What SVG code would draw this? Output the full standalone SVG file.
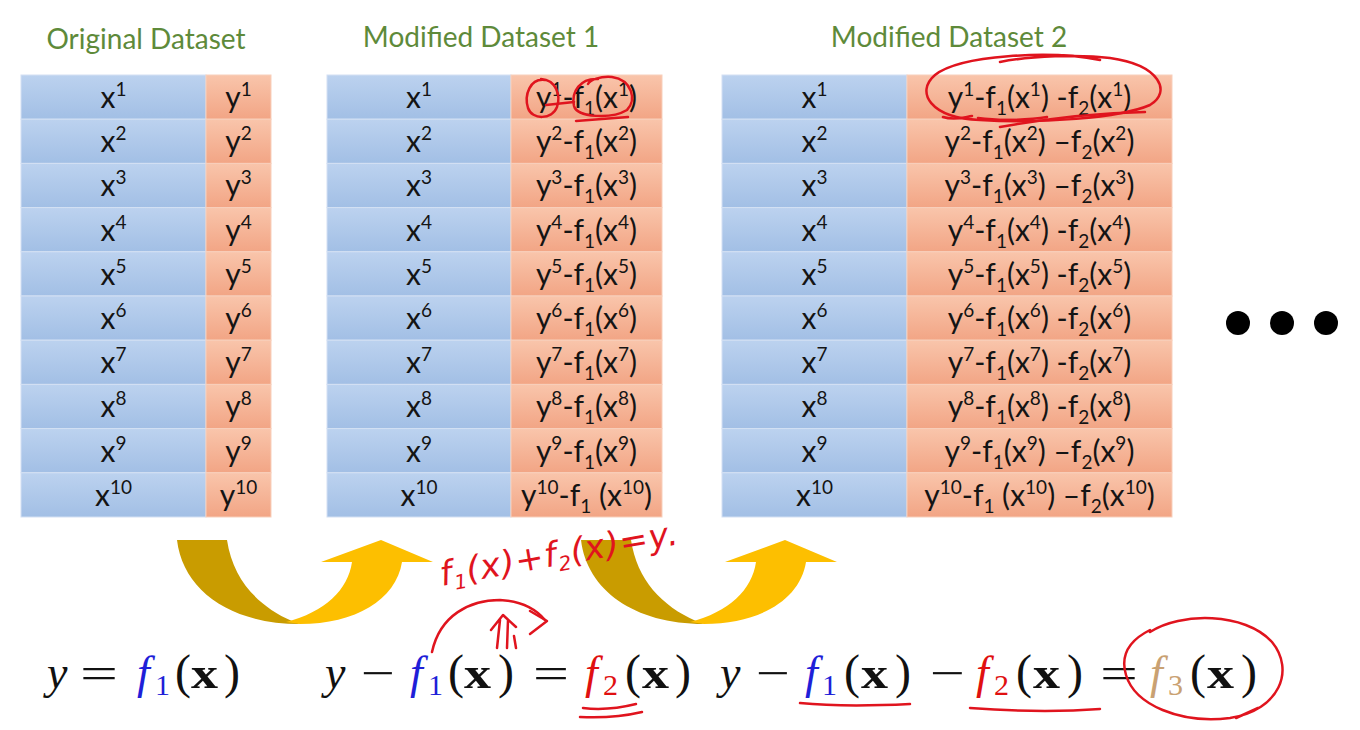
<svg xmlns="http://www.w3.org/2000/svg" width="1360" height="730" viewBox="0 0 1360 730">
<defs>
<linearGradient id="gb" x1="0" y1="0" x2="0" y2="1"><stop offset="0" stop-color="#bcd2ef"/><stop offset="1" stop-color="#a2bfe5"/></linearGradient>
<linearGradient id="go" x1="0" y1="0" x2="0" y2="1"><stop offset="0" stop-color="#f9c5ab"/><stop offset="1" stop-color="#f2a585"/></linearGradient>
<style>
.hdr{font-family:Lato,"Open Sans",sans-serif;font-size:28px;fill:#5e8a3a;text-anchor:middle}
.b{fill:url(#gb);stroke:#d3e0f3;stroke-width:1}
.o{fill:url(#go);stroke:#f8cfbb;stroke-width:1}
.c{font-family:Lato,"Open Sans",sans-serif;font-size:30px;fill:#141414;text-anchor:middle}
.sp{font-size:19px;baseline-shift:12px}
.sb{font-size:19px;baseline-shift:-7px}
.m{font-family:"Liberation Serif",serif;font-size:44px;fill:#111}
.i{font-style:italic;font-size:46px}
.bx{font-weight:bold}
.p{font-size:48px}
.d{font-family:"Liberation Serif",serif;font-size:30px}
.blue{fill:#1f1fd8}
.red{fill:#e01010}
.tan{fill:#c9a172}
.ink{fill:none;stroke:#e0141e;stroke-width:2.5;stroke-linecap:round;stroke-linejoin:round}
.dk{fill:#c99c00}
.lt{fill:#fdbf00}
</style>
</defs>
<rect width="1360" height="730" fill="#fff"/>

<text class="hdr" x="146" y="49">Original Dataset</text>
<text class="hdr" x="481" y="47">Modified Dataset 1</text>
<text class="hdr" x="949" y="47">Modified Dataset 2</text>

<g id="table-original">
<rect class="b" x="21" y="75" width="185" height="44.2"/><rect class="o" x="206" y="75" width="65" height="44.2"/>
<rect class="b" x="21" y="119.2" width="185" height="44.2"/><rect class="o" x="206" y="119.2" width="65" height="44.2"/>
<rect class="b" x="21" y="163.4" width="185" height="44.2"/><rect class="o" x="206" y="163.4" width="65" height="44.2"/>
<rect class="b" x="21" y="207.6" width="185" height="44.2"/><rect class="o" x="206" y="207.6" width="65" height="44.2"/>
<rect class="b" x="21" y="251.8" width="185" height="44.2"/><rect class="o" x="206" y="251.8" width="65" height="44.2"/>
<rect class="b" x="21" y="296" width="185" height="44.2"/><rect class="o" x="206" y="296" width="65" height="44.2"/>
<rect class="b" x="21" y="340.2" width="185" height="44.2"/><rect class="o" x="206" y="340.2" width="65" height="44.2"/>
<rect class="b" x="21" y="384.4" width="185" height="44.2"/><rect class="o" x="206" y="384.4" width="65" height="44.2"/>
<rect class="b" x="21" y="428.6" width="185" height="44.2"/><rect class="o" x="206" y="428.6" width="65" height="44.2"/>
<rect class="b" x="21" y="472.8" width="185" height="44.2"/><rect class="o" x="206" y="472.8" width="65" height="44.2"/>
<text class="c" x="113.5" y="108">x<tspan class="sp">1</tspan></text><text class="c" x="238.5" y="108">y<tspan class="sp">1</tspan></text>
<text class="c" x="113.5" y="152.2">x<tspan class="sp">2</tspan></text><text class="c" x="238.5" y="152.2">y<tspan class="sp">2</tspan></text>
<text class="c" x="113.5" y="196.4">x<tspan class="sp">3</tspan></text><text class="c" x="238.5" y="196.4">y<tspan class="sp">3</tspan></text>
<text class="c" x="113.5" y="240.6">x<tspan class="sp">4</tspan></text><text class="c" x="238.5" y="240.6">y<tspan class="sp">4</tspan></text>
<text class="c" x="113.5" y="284.8">x<tspan class="sp">5</tspan></text><text class="c" x="238.5" y="284.8">y<tspan class="sp">5</tspan></text>
<text class="c" x="113.5" y="329">x<tspan class="sp">6</tspan></text><text class="c" x="238.5" y="329">y<tspan class="sp">6</tspan></text>
<text class="c" x="113.5" y="373.2">x<tspan class="sp">7</tspan></text><text class="c" x="238.5" y="373.2">y<tspan class="sp">7</tspan></text>
<text class="c" x="113.5" y="417.4">x<tspan class="sp">8</tspan></text><text class="c" x="238.5" y="417.4">y<tspan class="sp">8</tspan></text>
<text class="c" x="113.5" y="461.6">x<tspan class="sp">9</tspan></text><text class="c" x="238.5" y="461.6">y<tspan class="sp">9</tspan></text>
<text class="c" x="113.5" y="505.8">x<tspan class="sp">10</tspan></text><text class="c" x="238.5" y="505.8">y<tspan class="sp">10</tspan></text>
</g>

<g id="table-modified-1">
<rect class="b" x="327" y="75" width="184" height="44.2"/><rect class="o" x="511" y="75" width="151" height="44.2"/>
<rect class="b" x="327" y="119.2" width="184" height="44.2"/><rect class="o" x="511" y="119.2" width="151" height="44.2"/>
<rect class="b" x="327" y="163.4" width="184" height="44.2"/><rect class="o" x="511" y="163.4" width="151" height="44.2"/>
<rect class="b" x="327" y="207.6" width="184" height="44.2"/><rect class="o" x="511" y="207.6" width="151" height="44.2"/>
<rect class="b" x="327" y="251.8" width="184" height="44.2"/><rect class="o" x="511" y="251.8" width="151" height="44.2"/>
<rect class="b" x="327" y="296" width="184" height="44.2"/><rect class="o" x="511" y="296" width="151" height="44.2"/>
<rect class="b" x="327" y="340.2" width="184" height="44.2"/><rect class="o" x="511" y="340.2" width="151" height="44.2"/>
<rect class="b" x="327" y="384.4" width="184" height="44.2"/><rect class="o" x="511" y="384.4" width="151" height="44.2"/>
<rect class="b" x="327" y="428.6" width="184" height="44.2"/><rect class="o" x="511" y="428.6" width="151" height="44.2"/>
<rect class="b" x="327" y="472.8" width="184" height="44.2"/><rect class="o" x="511" y="472.8" width="151" height="44.2"/>
<text class="c" x="419" y="108">x<tspan class="sp">1</tspan></text><text class="c" x="586.5" y="108">y<tspan class="sp">1</tspan>-f<tspan class="sb">1</tspan>(x<tspan class="sp">1</tspan>)</text>
<text class="c" x="419" y="152.2">x<tspan class="sp">2</tspan></text><text class="c" x="586.5" y="152.2">y<tspan class="sp">2</tspan>-f<tspan class="sb">1</tspan>(x<tspan class="sp">2</tspan>)</text>
<text class="c" x="419" y="196.4">x<tspan class="sp">3</tspan></text><text class="c" x="586.5" y="196.4">y<tspan class="sp">3</tspan>-f<tspan class="sb">1</tspan>(x<tspan class="sp">3</tspan>)</text>
<text class="c" x="419" y="240.6">x<tspan class="sp">4</tspan></text><text class="c" x="586.5" y="240.6">y<tspan class="sp">4</tspan>-f<tspan class="sb">1</tspan>(x<tspan class="sp">4</tspan>)</text>
<text class="c" x="419" y="284.8">x<tspan class="sp">5</tspan></text><text class="c" x="586.5" y="284.8">y<tspan class="sp">5</tspan>-f<tspan class="sb">1</tspan>(x<tspan class="sp">5</tspan>)</text>
<text class="c" x="419" y="329">x<tspan class="sp">6</tspan></text><text class="c" x="586.5" y="329">y<tspan class="sp">6</tspan>-f<tspan class="sb">1</tspan>(x<tspan class="sp">6</tspan>)</text>
<text class="c" x="419" y="373.2">x<tspan class="sp">7</tspan></text><text class="c" x="586.5" y="373.2">y<tspan class="sp">7</tspan>-f<tspan class="sb">1</tspan>(x<tspan class="sp">7</tspan>)</text>
<text class="c" x="419" y="417.4">x<tspan class="sp">8</tspan></text><text class="c" x="586.5" y="417.4">y<tspan class="sp">8</tspan>-f<tspan class="sb">1</tspan>(x<tspan class="sp">8</tspan>)</text>
<text class="c" x="419" y="461.6">x<tspan class="sp">9</tspan></text><text class="c" x="586.5" y="461.6">y<tspan class="sp">9</tspan>-f<tspan class="sb">1</tspan>(x<tspan class="sp">9</tspan>)</text>
<text class="c" x="419" y="505.8">x<tspan class="sp">10</tspan></text><text class="c" x="586.5" y="505.8">y<tspan class="sp">10</tspan>-f<tspan class="sb">1</tspan> (x<tspan class="sp">10</tspan>)</text>
</g>

<g id="table-modified-2">
<rect class="b" x="722" y="75" width="185" height="44.2"/><rect class="o" x="907" y="75" width="265" height="44.2"/>
<rect class="b" x="722" y="119.2" width="185" height="44.2"/><rect class="o" x="907" y="119.2" width="265" height="44.2"/>
<rect class="b" x="722" y="163.4" width="185" height="44.2"/><rect class="o" x="907" y="163.4" width="265" height="44.2"/>
<rect class="b" x="722" y="207.6" width="185" height="44.2"/><rect class="o" x="907" y="207.6" width="265" height="44.2"/>
<rect class="b" x="722" y="251.8" width="185" height="44.2"/><rect class="o" x="907" y="251.8" width="265" height="44.2"/>
<rect class="b" x="722" y="296" width="185" height="44.2"/><rect class="o" x="907" y="296" width="265" height="44.2"/>
<rect class="b" x="722" y="340.2" width="185" height="44.2"/><rect class="o" x="907" y="340.2" width="265" height="44.2"/>
<rect class="b" x="722" y="384.4" width="185" height="44.2"/><rect class="o" x="907" y="384.4" width="265" height="44.2"/>
<rect class="b" x="722" y="428.6" width="185" height="44.2"/><rect class="o" x="907" y="428.6" width="265" height="44.2"/>
<rect class="b" x="722" y="472.8" width="185" height="44.2"/><rect class="o" x="907" y="472.8" width="265" height="44.2"/>
<text class="c" x="814.5" y="108">x<tspan class="sp">1</tspan></text><text class="c" x="1039.5" y="108">y<tspan class="sp">1</tspan>-f<tspan class="sb">1</tspan>(x<tspan class="sp">1</tspan>) -f<tspan class="sb">2</tspan>(x<tspan class="sp">1</tspan>)</text>
<text class="c" x="814.5" y="152.2">x<tspan class="sp">2</tspan></text><text class="c" x="1039.5" y="152.2">y<tspan class="sp">2</tspan>-f<tspan class="sb">1</tspan>(x<tspan class="sp">2</tspan>) –f<tspan class="sb">2</tspan>(x<tspan class="sp">2</tspan>)</text>
<text class="c" x="814.5" y="196.4">x<tspan class="sp">3</tspan></text><text class="c" x="1039.5" y="196.4">y<tspan class="sp">3</tspan>-f<tspan class="sb">1</tspan>(x<tspan class="sp">3</tspan>) –f<tspan class="sb">2</tspan>(x<tspan class="sp">3</tspan>)</text>
<text class="c" x="814.5" y="240.6">x<tspan class="sp">4</tspan></text><text class="c" x="1039.5" y="240.6">y<tspan class="sp">4</tspan>-f<tspan class="sb">1</tspan>(x<tspan class="sp">4</tspan>) -f<tspan class="sb">2</tspan>(x<tspan class="sp">4</tspan>)</text>
<text class="c" x="814.5" y="284.8">x<tspan class="sp">5</tspan></text><text class="c" x="1039.5" y="284.8">y<tspan class="sp">5</tspan>-f<tspan class="sb">1</tspan>(x<tspan class="sp">5</tspan>) -f<tspan class="sb">2</tspan>(x<tspan class="sp">5</tspan>)</text>
<text class="c" x="814.5" y="329">x<tspan class="sp">6</tspan></text><text class="c" x="1039.5" y="329">y<tspan class="sp">6</tspan>-f<tspan class="sb">1</tspan>(x<tspan class="sp">6</tspan>) -f<tspan class="sb">2</tspan>(x<tspan class="sp">6</tspan>)</text>
<text class="c" x="814.5" y="373.2">x<tspan class="sp">7</tspan></text><text class="c" x="1039.5" y="373.2">y<tspan class="sp">7</tspan>-f<tspan class="sb">1</tspan>(x<tspan class="sp">7</tspan>) -f<tspan class="sb">2</tspan>(x<tspan class="sp">7</tspan>)</text>
<text class="c" x="814.5" y="417.4">x<tspan class="sp">8</tspan></text><text class="c" x="1039.5" y="417.4">y<tspan class="sp">8</tspan>-f<tspan class="sb">1</tspan>(x<tspan class="sp">8</tspan>) -f<tspan class="sb">2</tspan>(x<tspan class="sp">8</tspan>)</text>
<text class="c" x="814.5" y="461.6">x<tspan class="sp">9</tspan></text><text class="c" x="1039.5" y="461.6">y<tspan class="sp">9</tspan>-f<tspan class="sb">1</tspan>(x<tspan class="sp">9</tspan>) –f<tspan class="sb">2</tspan>(x<tspan class="sp">9</tspan>)</text>
<text class="c" x="814.5" y="505.8">x<tspan class="sp">10</tspan></text><text class="c" x="1039.5" y="505.8">y<tspan class="sp">10</tspan>-f<tspan class="sb">1</tspan> (x<tspan class="sp">10</tspan>) –f<tspan class="sb">2</tspan>(x<tspan class="sp">10</tspan>)</text>
</g>

<g id="ellipsis">
<circle cx="1238" cy="323" r="12" fill="#000"/>
<circle cx="1282" cy="323" r="12" fill="#000"/>
<circle cx="1326" cy="323" r="12" fill="#000"/>
</g>

<g id="connectors">
<g id="arrow-1">
<path class="dk" d="M177,540 L227,540 C233,580 258,606 292,621 L300,624 C230,624 183,590 177,540 Z"/>
<path class="lt" d="M286,622 C325,612 348,590 352,562 L321,562 L381,540 L433,562 L402,562 C396,600 355,624 300,624 Z"/>
</g>
<g id="arrow-2" transform="translate(404,0)">
<path class="dk" d="M177,540 L227,540 C233,580 258,606 292,621 L300,624 C230,624 183,590 177,540 Z"/>
<path class="lt" d="M286,622 C325,612 348,590 352,562 L321,562 L381,540 L433,562 L402,562 C396,600 355,624 300,624 Z"/>
</g>
</g>

<g id="formula-1">
<text class="m i" x="47" y="688">y</text>
<text class="m" x="80" y="688" textLength="38" lengthAdjust="spacingAndGlyphs">=</text>
<text class="m i blue" x="137" y="688">f</text><text class="m d blue" x="155" y="695">1</text>
<text class="m p" x="175" y="688">(</text><text class="m bx" x="191" y="688" textLength="27" lengthAdjust="spacingAndGlyphs">x</text><text class="m p" x="224" y="688">)</text>
</g>

<g id="formula-2">
<text class="m i" x="325" y="688">y</text>
<text class="m" x="361" y="688" textLength="34" lengthAdjust="spacingAndGlyphs">−</text>
<text class="m i blue" x="410" y="688">f</text><text class="m d blue" x="428" y="695">1</text>
<text class="m p" x="448" y="688">(</text><text class="m bx" x="464" y="688" textLength="27" lengthAdjust="spacingAndGlyphs">x</text><text class="m p" x="498" y="688">)</text>
<text class="m" x="533" y="688" textLength="36" lengthAdjust="spacingAndGlyphs">=</text>
<text class="m i red" x="585" y="688">f</text><text class="m d red" x="603" y="695">2</text>
<text class="m p" x="625" y="688">(</text><text class="m bx" x="642" y="688" textLength="27" lengthAdjust="spacingAndGlyphs">x</text><text class="m p" x="675" y="688">)</text>
</g>

<g id="formula-3">
<text class="m i" x="720" y="688">y</text>
<text class="m" x="756" y="688" textLength="34" lengthAdjust="spacingAndGlyphs">−</text>
<text class="m i blue" x="805" y="688">f</text><text class="m d blue" x="822" y="695">1</text>
<text class="m p" x="844" y="688">(</text><text class="m bx" x="861" y="688" textLength="27" lengthAdjust="spacingAndGlyphs">x</text><text class="m p" x="895" y="688">)</text>
<text class="m" x="930" y="688" textLength="35" lengthAdjust="spacingAndGlyphs">−</text>
<text class="m i red" x="976" y="688">f</text><text class="m d red" x="994" y="695">2</text>
<text class="m p" x="1016" y="688">(</text><text class="m bx" x="1033" y="688" textLength="27" lengthAdjust="spacingAndGlyphs">x</text><text class="m p" x="1067" y="688">)</text>
<text class="m" x="1100" y="688" textLength="38" lengthAdjust="spacingAndGlyphs">=</text>
<text class="m i tan" x="1150" y="688">f</text><text class="m d tan" x="1168" y="695">3</text>
<text class="m p" x="1190" y="688">(</text><text class="m bx" x="1207" y="688" textLength="27" lengthAdjust="spacingAndGlyphs">x</text><text class="m p" x="1241" y="688">)</text>
</g>

<g id="annotations">
<path class="ink" d="M545,80 C530,78 524,95 528,108 C532,120 552,120 557,107 C561,95 556,80 541,79"/>
<path class="ink" d="M546,105 L574,102"/>
<path class="ink" d="M598,79 C580,78 571,92 574,106 C577,118 612,119 627,110 C637,100 632,80 612,77 C600,76 590,80 588,84"/>
<path class="ink" d="M576,121 L628,117"/>
<path class="ink" d="M1100,60 C1050,50 960,55 935,75 C915,92 930,118 980,120 C1040,124 1120,118 1150,105 C1172,92 1160,65 1110,58 C1080,54 1030,56 1000,62"/>
<path class="ink" d="M943,117 C955,121 965,117 972,116 M978,118 C1000,121 1030,120 1047,117 M1000,127 C1050,118 1100,113 1145,112"/>
<text x="442" y="586" transform="rotate(-10 442 586)" font-family="DejaVu Sans" font-style="italic" font-size="34" letter-spacing="1" fill="#e0141e">f<tspan font-size="20" dy="6">1</tspan><tspan dy="-6">(x)+f</tspan><tspan font-size="20" dy="6">2</tspan><tspan dy="-6">(x)=y.</tspan></text>
<path class="ink" d="M432,652 C440,615 470,600 500,600 C520,601 535,608 545,620"/>
<path class="ink" d="M530,611 L547,621 L530,634"/>
<path class="ink" d="M497,648 L500,620 M507,648 L508,620 M491,630 L503,615 L516,627 M514,636 L516,648"/>
<path class="ink" d="M583,708 C600,710 620,708 636,704 M580,717 C600,718 625,716 642,712"/>
<path class="ink" d="M800,703 C830,706 870,706 910,704"/>
<path class="ink" d="M970,708 C1010,711 1060,712 1100,709"/>
<path class="ink" d="M1150,632 C1180,612 1245,612 1272,642 C1295,670 1280,710 1230,718 C1180,724 1135,705 1126,675 C1120,655 1130,640 1150,630 M1236,718 L1258,708"/>
</g>
</svg>
